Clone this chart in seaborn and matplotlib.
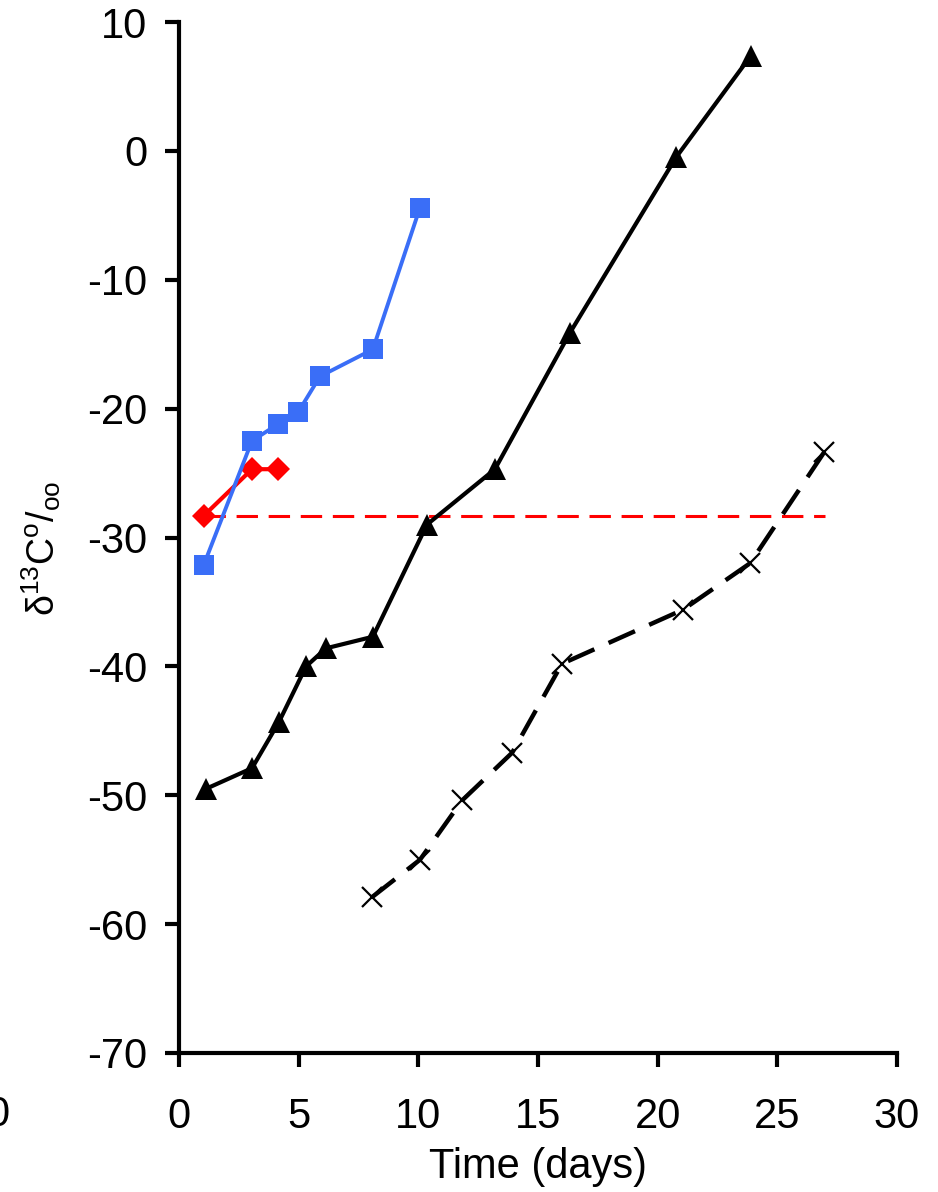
import matplotlib
matplotlib.use("Agg")
import matplotlib.pyplot as plt
import seaborn as sns

sns.set_style("ticks")
plt.rcParams['font.family'] = ['Liberation Sans', 'DejaVu Sans']
plt.rcParams['mathtext.fontset'] = 'custom'
plt.rcParams['mathtext.rm'] = 'Liberation Sans'
plt.rcParams['mathtext.it'] = 'Liberation Sans:italic'
plt.rcParams['axes.unicode_minus'] = False
plt.rcParams['text.color'] = 'black'
plt.rcParams['axes.labelcolor'] = 'black'
plt.rcParams['xtick.color'] = 'black'
plt.rcParams['ytick.color'] = 'black'

# Data
blue_x = [1.04, 3.05, 4.14, 4.97, 5.89, 8.1, 10.07]
blue_y = [-32.1, -22.5, -21.2, -20.3, -17.5, -15.4, -4.4]

red_x = [1.04, 3.05, 4.14]
red_y = [-28.3, -24.7, -24.7]

ref_x = [1.04, 27.0]
ref_y = [-28.3, -28.3]

tri_x = [1.13, 3.05, 4.18, 5.31, 6.14, 8.1, 10.36, 13.2, 16.34, 20.77, 23.9]
tri_y = [-49.5, -47.9, -44.3, -40.0, -38.6, -37.7, -29.0, -24.7, -14.1, -0.5, 7.4]

cross_x = [8.07, 10.07, 11.83, 13.92, 16.0, 21.06, 23.86, 26.95]
cross_y = [-57.9, -55.0, -50.4, -46.7, -39.8, -35.6, -32.0, -23.4]

x_ticks = [0, 5, 10, 15, 20, 25, 30]
y_ticks = [-70, -60, -50, -40, -30, -20, -10, 0, 10]

fig = plt.figure(figsize=(9.38, 11.92), dpi=100)
ax = fig.add_axes([179/938, 1 - 1053/1192, (897 - 179)/938, (1053 - 22)/1192])

sns.lineplot(x=ref_x, y=ref_y, ax=ax, color='#ff0000', linewidth=2.2,
             linestyle=(0, (7, 3.5)), sort=False, estimator=None)
sns.lineplot(x=red_x, y=red_y, ax=ax, color='#ff0000', linewidth=3,
             marker='D', markersize=12.5, markeredgewidth=0, sort=False, estimator=None)
sns.lineplot(x=blue_x, y=blue_y, ax=ax, color='#3a6ef7', linewidth=2.8,
             marker='s', markersize=15, markeredgewidth=0, sort=False, estimator=None)
sns.lineplot(x=tri_x, y=tri_y, ax=ax, color='black', linewidth=3,
             marker='^', markersize=16, markeredgewidth=0, sort=False, estimator=None)
sns.lineplot(x=cross_x, y=cross_y, ax=ax, color='black', linewidth=3.2,
             linestyle=(0, (6.5, 3.5)), marker='x', markersize=14,
             markeredgewidth=1.6, markeredgecolor='black', sort=False, estimator=None)

ax.set_xlim(0, 30)
ax.set_ylim(-70, 10)
ax.set_xticks(x_ticks)
ax.set_yticks(y_ticks)
ax.tick_params(axis='both', labelsize=30, width=3, length=10, direction='out',
               color='black', labelcolor='black')
ax.tick_params(axis='x', pad=22)
ax.tick_params(axis='y', pad=13)
for s in ['top', 'right']:
    ax.spines[s].set_visible(False)
for s in ['left', 'bottom']:
    ax.spines[s].set_linewidth(3)
    ax.spines[s].set_color('black')
ax.set_facecolor('white')
ax.set_xlabel('Time (days)', fontsize=30, labelpad=7)
ax.set_ylabel(r'δ$^{\mathrm{13}}$C$^{\mathrm{o}}$/$_{\mathrm{oo}}$', fontsize=27)
ax.yaxis.set_label_coords(-0.162, 0.49)

fig.text(9/938, 1 - 1115/1192, '0', fontsize=30, ha='right', va='center')

fig.savefig('out.png', dpi=100, facecolor='white')
